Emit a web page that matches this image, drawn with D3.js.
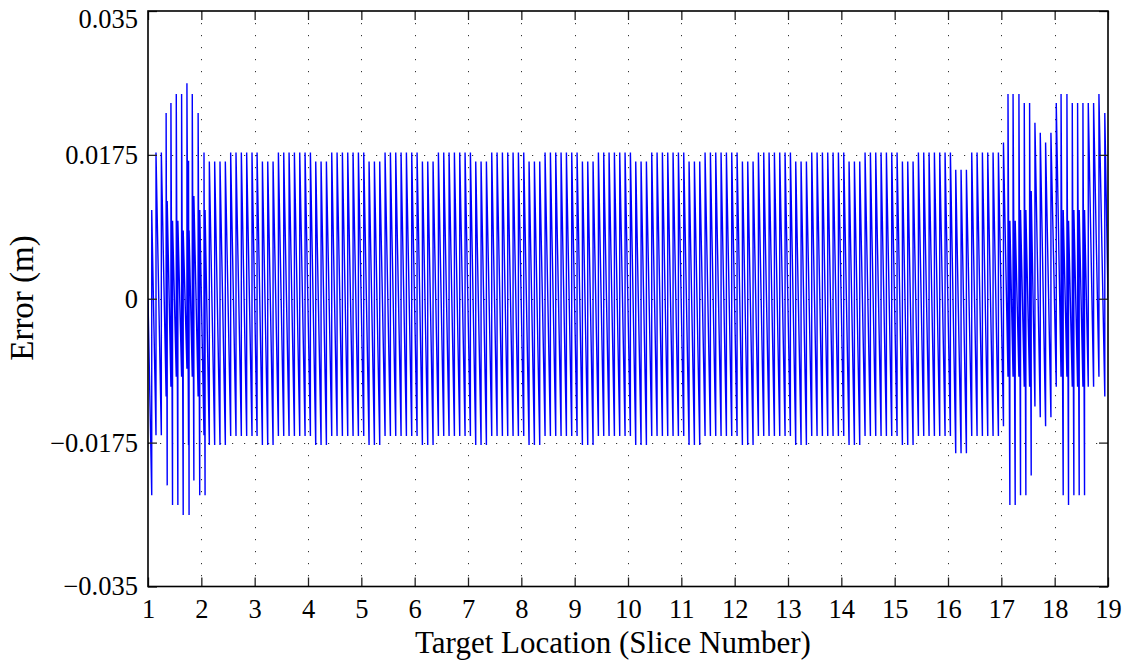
<!DOCTYPE html>
<html>
<head>
<meta charset="utf-8">
<script src="https://cdn.jsdelivr.net/npm/d3@7"></script>
<style>
  html, body { margin: 0; padding: 0; background: #fff; }
  svg { display: block; }
  text { font-family: "Liberation Serif", "Times New Roman", serif; fill: #000; }
</style>
</head>
<body>
<svg id="chart" width="1125" height="664"></svg>
<script>
// Axis ticks
const xTicks = [1, 2, 3, 4, 5, 6, 7, 8, 9, 10, 11, 12, 13, 14, 15, 16, 17, 18, 19];
const yTicks = [-0.035, -0.0175, 0, 0.0175, 0.035];
const yTickLabels = ["\u22120.035", "\u22120.0175", "0", "0.0175", "0.035"];
const xGrid = [2, 3, 4, 5, 6, 7, 8, 9, 10, 11, 12, 13, 14, 15, 16, 17, 18];
const yGrid = [-0.0175, 0, 0.0175];

// Error trace: each stroke is a rise from its bottom to its top at one slice position,
// followed by a fall to the bottom of the next stroke.
const traceStart = [1, 0];
const traceEnd = [19, 0];

const strokeX = [
  1.07, 1.15, 1.25, 1.34, 1.36, 1.43, 1.46, 1.53, 1.56, 1.63, 1.66, 1.73, 1.76, 1.77, 1.83, 1.86, 1.94, 1.97,
  2.05, 2.07, 2.15, 2.25, 2.35, 2.45, 2.55, 2.65, 2.75, 2.85, 2.95,
  3.045, 3.145, 3.245, 3.345, 3.445, 3.545, 3.645, 3.745, 3.845, 3.945,
  4.045, 4.145, 4.245, 4.345, 4.445, 4.545, 4.645, 4.745, 4.845, 4.945,
  5.045, 5.145, 5.245, 5.345, 5.445, 5.545, 5.645, 5.745, 5.845, 5.945,
  6.045, 6.145, 6.245, 6.345, 6.445, 6.545, 6.645, 6.745, 6.845, 6.945,
  7.045, 7.145, 7.245, 7.345, 7.445, 7.545, 7.645, 7.745, 7.845, 7.945,
  8.045, 8.145, 8.245, 8.345, 8.445, 8.545, 8.645, 8.745, 8.845, 8.945,
  9.045, 9.145, 9.245, 9.345, 9.445, 9.545, 9.645, 9.745, 9.845, 9.945,
  10.045, 10.145, 10.245, 10.345, 10.445, 10.545, 10.645, 10.745, 10.845, 10.945,
  11.045, 11.145, 11.245, 11.345, 11.445, 11.545, 11.645, 11.745, 11.845, 11.945,
  12.045, 12.145, 12.245, 12.345, 12.445, 12.545, 12.645, 12.745, 12.845, 12.945,
  13.045, 13.145, 13.245, 13.345, 13.445, 13.545, 13.645, 13.745, 13.845, 13.945,
  14.045, 14.145, 14.245, 14.345, 14.445, 14.545, 14.645, 14.745, 14.845, 14.945,
  15.045, 15.145, 15.245, 15.345, 15.445, 15.545, 15.645, 15.745, 15.845, 15.945,
  16.045, 16.145, 16.245, 16.345, 16.445, 16.545, 16.645, 16.745, 16.845, 16.945,
  17.04, 17.125, 17.16, 17.22, 17.26, 17.33, 17.36, 17.43, 17.46, 17.53, 17.56, 17.63, 17.73, 17.83, 17.93,
  18.03, 18.12, 18.16, 18.23, 18.26, 18.33, 18.36, 18.43, 18.46, 18.53, 18.56, 18.63, 18.73, 18.83, 18.94
];

const strokeTop = [
  0.0108, 0.0178, 0.0178, 0.0226, 0.0119, 0.0238, 0.0095, 0.0249, 0.0095, 0.0249, 0.0083, 0.0262, 0.0168, 0.0083, 0.0249, 0.0125, 0.0226, 0.0108,
  0.0178, 0.0108, 0.0167, 0.0167, 0.0167, 0.0167, 0.0178, 0.0178, 0.0178, 0.0178, 0.0178,
  0.0178, 0.0167, 0.0167, 0.0167, 0.0178, 0.0178, 0.0178, 0.0178, 0.0178, 0.0178,
  0.0178, 0.0167, 0.0167, 0.0167, 0.0178, 0.0178, 0.0178, 0.0178, 0.0178, 0.0178,
  0.0178, 0.0167, 0.0167, 0.0167, 0.0178, 0.0178, 0.0178, 0.0178, 0.0178, 0.0178,
  0.0178, 0.0167, 0.0167, 0.0167, 0.0178, 0.0178, 0.0178, 0.0178, 0.0178, 0.0178,
  0.0178, 0.0167, 0.0167, 0.0167, 0.0178, 0.0178, 0.0178, 0.0178, 0.0178, 0.0178,
  0.0178, 0.0167, 0.0167, 0.0167, 0.0178, 0.0178, 0.0178, 0.0178, 0.0178, 0.0178,
  0.0178, 0.0167, 0.0167, 0.0167, 0.0178, 0.0178, 0.0178, 0.0178, 0.0178, 0.0178,
  0.0178, 0.0167, 0.0167, 0.0167, 0.0178, 0.0178, 0.0178, 0.0178, 0.0178, 0.0178,
  0.0178, 0.0167, 0.0167, 0.0167, 0.0178, 0.0178, 0.0178, 0.0178, 0.0178, 0.0178,
  0.0178, 0.0167, 0.0167, 0.0167, 0.0178, 0.0178, 0.0178, 0.0178, 0.0178, 0.0178,
  0.0178, 0.0167, 0.0167, 0.0167, 0.0178, 0.0178, 0.0178, 0.0178, 0.0178, 0.0178,
  0.0178, 0.0167, 0.0167, 0.0167, 0.0178, 0.0178, 0.0178, 0.0178, 0.0178, 0.0178,
  0.0178, 0.0167, 0.0167, 0.0167, 0.0178, 0.0178, 0.0178, 0.0178, 0.0178, 0.0178,
  0.0178, 0.0157, 0.0157, 0.0157, 0.0178, 0.0178, 0.0178, 0.0178, 0.0178, 0.0178,
  0.0190, 0.0249, 0.0095, 0.0249, 0.0095, 0.0249, 0.0108, 0.0238, 0.0108, 0.0238, 0.0131, 0.0214, 0.0202, 0.0190, 0.0202,
  0.0238, 0.0249, 0.0108, 0.0249, 0.0095, 0.0238, 0.0108, 0.0238, 0.0108, 0.0238, 0.0108, 0.0238, 0.0238, 0.0249, 0.0226
];

const strokeBottom = [
  -0.0239, -0.0166, -0.0166, -0.0119, -0.0227, -0.0107, -0.0251, -0.0095, -0.0251, -0.0095, -0.0263, -0.0085, -0.0178, -0.0263, -0.0095, -0.0221, -0.0119, -0.0239,
  -0.0166, -0.0239, -0.0178, -0.0178, -0.0178, -0.0178, -0.0167, -0.0167, -0.0167, -0.0167, -0.0167,
  -0.0167, -0.0178, -0.0178, -0.0178, -0.0167, -0.0167, -0.0167, -0.0167, -0.0167, -0.0167,
  -0.0167, -0.0178, -0.0178, -0.0178, -0.0167, -0.0167, -0.0167, -0.0167, -0.0167, -0.0167,
  -0.0167, -0.0178, -0.0178, -0.0178, -0.0167, -0.0167, -0.0167, -0.0167, -0.0167, -0.0167,
  -0.0167, -0.0178, -0.0178, -0.0178, -0.0167, -0.0167, -0.0167, -0.0167, -0.0167, -0.0167,
  -0.0167, -0.0178, -0.0178, -0.0178, -0.0167, -0.0167, -0.0167, -0.0167, -0.0167, -0.0167,
  -0.0167, -0.0178, -0.0178, -0.0178, -0.0167, -0.0167, -0.0167, -0.0167, -0.0167, -0.0167,
  -0.0167, -0.0178, -0.0178, -0.0178, -0.0167, -0.0167, -0.0167, -0.0167, -0.0167, -0.0167,
  -0.0167, -0.0178, -0.0178, -0.0178, -0.0167, -0.0167, -0.0167, -0.0167, -0.0167, -0.0167,
  -0.0167, -0.0178, -0.0178, -0.0178, -0.0167, -0.0167, -0.0167, -0.0167, -0.0167, -0.0167,
  -0.0167, -0.0178, -0.0178, -0.0178, -0.0167, -0.0167, -0.0167, -0.0167, -0.0167, -0.0167,
  -0.0167, -0.0178, -0.0178, -0.0178, -0.0167, -0.0167, -0.0167, -0.0167, -0.0167, -0.0167,
  -0.0167, -0.0178, -0.0178, -0.0178, -0.0167, -0.0167, -0.0167, -0.0167, -0.0167, -0.0167,
  -0.0167, -0.0178, -0.0178, -0.0178, -0.0167, -0.0167, -0.0167, -0.0167, -0.0167, -0.0167,
  -0.0167, -0.0188, -0.0188, -0.0188, -0.0167, -0.0167, -0.0167, -0.0167, -0.0167, -0.0167,
  -0.0155, -0.0095, -0.0251, -0.0095, -0.0251, -0.0095, -0.0239, -0.0107, -0.0239, -0.0107, -0.0215, -0.0131, -0.0144, -0.0155, -0.0144,
  -0.0107, -0.0095, -0.0239, -0.0095, -0.0251, -0.0107, -0.0239, -0.0107, -0.0239, -0.0107, -0.0239, -0.0107, -0.0107, -0.0095, -0.0119
];

const svg = d3.select("#chart");
const plot = { left: 148, right: 1108, top: 11, bottom: 586.5 };

const x = d3.scaleLinear().domain([1, 19]).range([plot.left, plot.right]);
const y = d3.scaleLinear().domain([-0.035, 0.035]).range([plot.bottom, plot.top]);

// Dotted grid
const grid = svg.append("g").attr("class", "grid")
  .attr("stroke", "#333").attr("stroke-width", 1).attr("stroke-dasharray", "1.2,10.8");
grid.selectAll("line.gx").data(xGrid).join("line").attr("class", "gx")
  .attr("x1", d => Math.round(x(d)) + 0.5).attr("x2", d => Math.round(x(d)) + 0.5)
  .attr("y1", plot.top).attr("y2", plot.bottom);
grid.selectAll("line.gy").data(yGrid).join("line").attr("class", "gy")
  .attr("y1", d => Math.round(y(d)) + 0.5).attr("y2", d => Math.round(y(d)) + 0.5)
  .attr("x1", plot.left).attr("x2", plot.right);

// Trace
const pts = [traceStart];
strokeX.forEach((sx, i) => {
  pts.push([sx, strokeBottom[i]]);
  pts.push([sx, strokeTop[i]]);
});
pts.push(traceEnd);

svg.append("defs").append("clipPath").attr("id", "plotClip")
  .append("rect").attr("x", plot.left).attr("y", plot.top)
  .attr("width", plot.right - plot.left).attr("height", plot.bottom - plot.top);

svg.append("path")
  .datum(pts)
  .attr("clip-path", "url(#plotClip)")
  .attr("fill", "none")
  .attr("stroke", "#0000ff")
  .attr("stroke-width", 1.4)
  .attr("stroke-linejoin", "miter")
  .attr("d", d3.line().x(d => x(d[0])).y(d => y(d[1])));

// Axes with inward ticks
const tickLen = 9;
const fmtY = d => yTickLabels[yTicks.indexOf(d)];

const axB = svg.append("g").attr("transform", `translate(0,${plot.bottom})`)
  .call(d3.axisBottom(x).tickValues(xTicks).tickSizeInner(-tickLen).tickSizeOuter(0).tickPadding(13).tickFormat(d3.format("d")));
const axT = svg.append("g").attr("transform", `translate(0,${plot.top})`)
  .call(d3.axisTop(x).tickValues(xTicks).tickSizeInner(-tickLen).tickSizeOuter(0).tickFormat(""));
const axL = svg.append("g").attr("transform", `translate(${plot.left},0)`)
  .call(d3.axisLeft(y).tickValues(yTicks).tickSizeInner(-tickLen).tickSizeOuter(0).tickPadding(10).tickFormat(fmtY));
const axR = svg.append("g").attr("transform", `translate(${plot.right},0)`)
  .call(d3.axisRight(y).tickValues(yTicks).tickSizeInner(-tickLen).tickSizeOuter(0).tickFormat(""));

[axB, axT, axL, axR].forEach(g => {
  g.select(".domain").remove();
  g.selectAll(".tick line").attr("stroke", "#222").attr("stroke-width", 1.3);
  g.selectAll(".tick text")
    .style("font-family", '"Liberation Serif", "Times New Roman", serif')
    .style("font-size", "26.5px").attr("fill", "#000");
});
// keep the topmost y label inside the page
axL.selectAll(".tick text").filter(d => d === 0.035).attr("dy", "0.62em");

// Frame
svg.append("rect")
  .attr("x", plot.left).attr("y", plot.top)
  .attr("width", plot.right - plot.left).attr("height", plot.bottom - plot.top)
  .attr("fill", "none").attr("stroke", "#000").attr("stroke-width", 1.6);

// Axis titles
svg.append("text")
  .attr("x", 613).attr("y", 653)
  .attr("text-anchor", "middle")
  .style("font-size", "31px")
  .text("Target Location (Slice Number)");

svg.append("text")
  .attr("transform", "translate(33,298) rotate(-90)")
  .attr("text-anchor", "middle")
  .style("font-size", "33px")
  .text("Error (m)");
</script>
</body>
</html>
